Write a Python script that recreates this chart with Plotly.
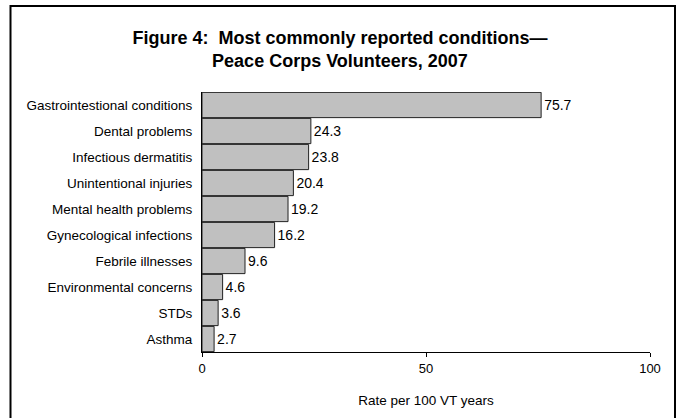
import plotly.graph_objects as go

categories = ["Gastrointestional conditions", "Dental problems", "Infectious dermatitis",
              "Unintentional injuries", "Mental health problems", "Gynecological infections",
              "Febrile illnesses", "Environmental concerns", "STDs", "Asthma"]
values = [75.7, 24.3, 23.8, 20.4, 19.2, 16.2, 9.6, 4.6, 3.6, 2.7]
x_ticks = [0, 50, 100]

W, H = 680, 418
L, R, T, B = 202, 30, 92, 66
pw, ph = W - L - R, H - T - B
FONT = "Arial, Liberation Sans"

fig = go.Figure(go.Bar(
    y=categories[::-1], x=values[::-1], orientation="h",
    marker=dict(color="#C0C0C0", line=dict(color="#222222", width=1)),
    text=[f"{v:.1f}" for v in values[::-1]], textposition="outside",
    textfont=dict(family=FONT, size=14, color="black"),
    cliponaxis=False,
))

fig.update_layout(
    width=W, height=H, margin=dict(l=L, r=R, t=T, b=B, autoexpand=False),
    paper_bgcolor="white", plot_bgcolor="white",
    bargap=0.03, showlegend=False,
    font=dict(family=FONT, color="black"),
    title=dict(text="Figure 4:  Most commonly reported conditions—<br>Peace Corps Volunteers, 2007",
               x=0.5, xanchor="center", y=1 - 44 / H, yanchor="middle",
               font=dict(size=18, family=FONT, color="black", weight="bold")),
    xaxis=dict(range=[0, 100], tickvals=x_ticks, showgrid=False, zeroline=False,
               showline=True, linecolor="black", linewidth=1, ticks="outside", ticklen=4,
               tickcolor="black", tickfont=dict(size=13),
               title=dict(text="Rate per 100 VT years", font=dict(size=13.5), standoff=20)),
    yaxis=dict(showgrid=False, zeroline=False, showline=True, linecolor="black", linewidth=1,
               ticks="", tickfont=dict(size=13.5), ticklabelstandoff=6),
)

# outer frame
fig.add_shape(type="rect", xref="paper", yref="paper",
              x0=(10.5 - L) / pw, x1=(675 - L) / pw,
              y0=(T + ph - 430) / ph, y1=(T + ph - 6) / ph,
              line=dict(color="black", width=2), fillcolor="rgba(0,0,0,0)", layer="above")

fig.write_html("out.html", config={"displayModeBar": False},
               post_script="document.body.style.margin='0';document.body.style.overflow='hidden';")
